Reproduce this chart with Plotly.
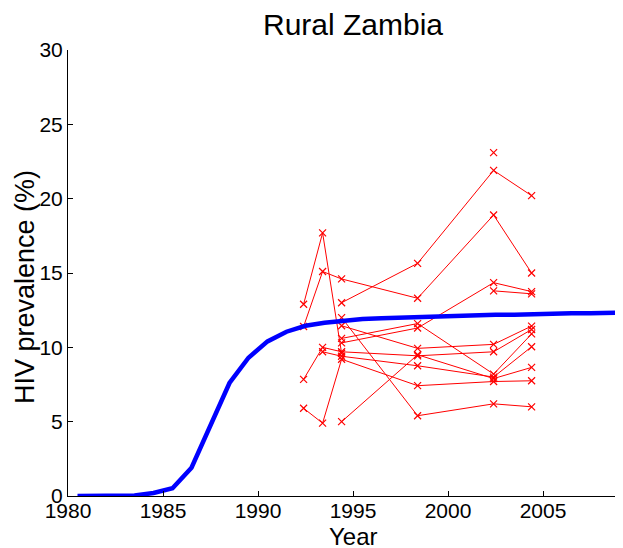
import plotly.graph_objects as go

# model curve (yearly, mid-year)
model_years = [1980.5, 1981.5, 1982.5, 1983.5, 1984.5, 1985.5, 1986.5, 1987.5, 1988.5, 1989.5,
               1990.5, 1991.5, 1992.5, 1993.5, 1994.5, 1995.5, 1996.5, 1997.5, 1998.5, 1999.5,
               2000.5, 2001.5, 2002.5, 2003.5, 2004.5, 2005.5, 2006.5, 2007.5, 2008.5, 2009.5]
model_prev = [0.0, 0.0, 0.0, 0.03, 0.2, 0.52, 1.9, 4.8, 7.6, 9.3,
              10.4, 11.05, 11.45, 11.65, 11.8, 11.9, 11.95, 12.0, 12.05, 12.1,
              12.1, 12.15, 12.2, 12.2, 12.25, 12.25, 12.3, 12.3, 12.3, 12.35]

# antenatal clinic sites
survey_years = [1992.4, 1993.4, 1994.4, 1998.4, 2002.4, 2004.4]
site_01 = [12.9, 17.7, 9.6, None, None, None]
site_02 = [11.4, 15.1, 14.6, 13.3, 18.9, 15.0]
site_03 = [None, None, 13.0, 15.65, 21.9, 20.2]
site_04 = [7.85, 10.0, 9.7, 9.43, 9.7, 11.2]
site_05 = [None, 9.7, 9.4, 8.76, 8.0, 10.04]
site_06 = [5.9, 4.9, 9.2, 7.42, 7.7, 7.75]
site_07 = [None, None, 10.6, 11.6, 8.2, 10.9]
site_08 = [None, None, 12.0, 5.4, 6.2, 6.0]
site_09 = [None, None, 11.45, 9.93, 10.2, 11.43]
site_10 = [None, None, 10.3, 11.3, 14.35, 13.75]
site_11 = [None, None, 5.0, 9.5, 7.9, 8.65]
site_12 = [None, None, None, None, 13.8, 13.6]
site_13 = [None, None, None, None, 23.1, None]
sites = [site_01, site_02, site_03, site_04, site_05, site_06, site_07,
         site_08, site_09, site_10, site_11, site_12, site_13]

x_ticks = [1980, 1985, 1990, 1995, 2000, 2005, 2010]
y_ticks = [0, 5, 10, 15, 20, 25, 30]
x_range = [1980, 2010]

FONT = "Liberation Sans, Arial, sans-serif"

fig = go.Figure()
for s in sites:
    fig.add_trace(go.Scatter(
        x=survey_years, y=s, mode="lines+markers",
        line=dict(color="#FF0000", width=1),
        marker=dict(symbol="x-thin", size=7, line=dict(color="#FF0000", width=1.2)),
        connectgaps=False, showlegend=False,
    ))

fig.add_trace(go.Scatter(
    x=model_years, y=model_prev, mode="lines",
    line=dict(color="#0000FF", width=4.5), showlegend=False,
))

# axis titles as annotations so they sit where the MATLAB labels are
fig.add_annotation(text="Year", xref="paper", yref="paper", x=0.5, y=-0.0897,
                   xanchor="center", yanchor="middle", showarrow=False,
                   font=dict(size=24, family=FONT, color="black"))
fig.add_annotation(text="HIV prevalence (%)", xref="paper", yref="paper",
                   x=-0.0754, y=0.4686, textangle=-90,
                   xanchor="center", yanchor="middle", showarrow=False,
                   font=dict(size=27, family=FONT, color="black"))
# last tick label, cut by the window edge as in the original
fig.add_annotation(text=str(x_ticks[-1]), xref="paper", yref="paper",
                   x=(x_ticks[-1] - x_range[0]) / (x_range[1] - x_range[0]), y=-0.0336,
                   xanchor="center", yanchor="middle", showarrow=False,
                   font=dict(size=21, family=FONT, color="black"))

# page keeps its 8px body margin; the axes run on past the window's right edge
fig.update_layout(
    width=660, height=540,
    margin=dict(l=60, r=30, t=42, b=52),
    paper_bgcolor="white", plot_bgcolor="white",
    font=dict(family=FONT, color="black"),
    title=dict(text="Rural Zambia", x=0.5, xref="paper", xanchor="center",
               y=1 - 16 / 540, yref="container", yanchor="middle",
               font=dict(size=30, family=FONT)),
    xaxis=dict(range=x_range, tickvals=x_ticks,
               ticktext=[str(t) for t in x_ticks[:-1]] + [""],
               ticks="inside", ticklen=5,
               tickcolor="black", showline=True, linecolor="black", linewidth=1,
               showgrid=False, zeroline=False, tickfont=dict(size=21),
               ticklabelstandoff=-4, automargin=False),
    yaxis=dict(range=[0, 30], tickvals=y_ticks, ticks="inside", ticklen=5,
               tickcolor="black", showline=True, linecolor="black", linewidth=1,
               showgrid=False, zeroline=False, tickfont=dict(size=21),
               automargin=False),
)

fig.write_html("out.html")
